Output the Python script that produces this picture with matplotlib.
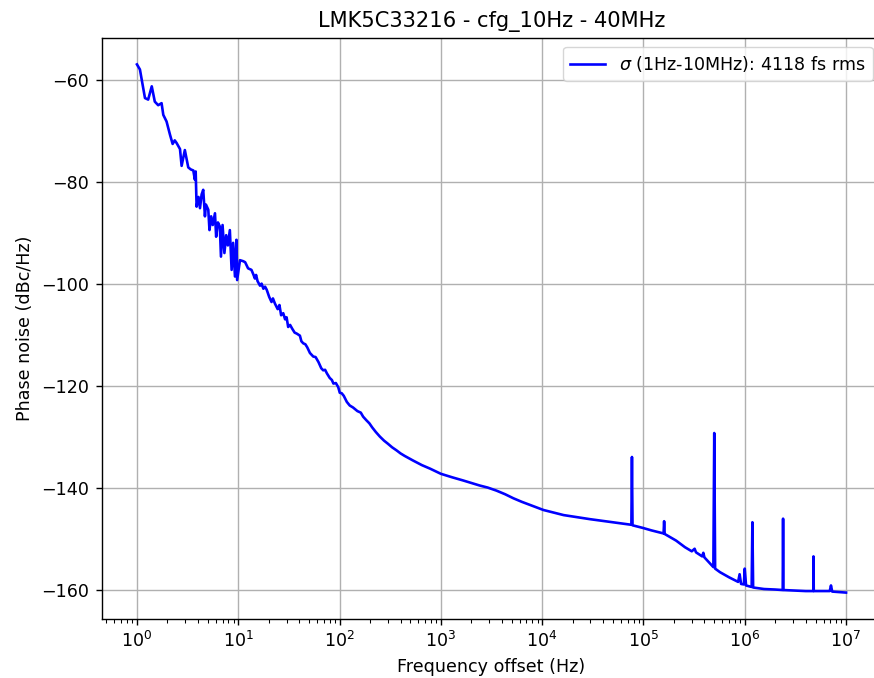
import matplotlib
matplotlib.use("Agg")
import matplotlib.pyplot as plt

# phase noise trace (offset in Hz, level in dBc/Hz)
freq = [1.0, 1.07, 1.2, 1.29, 1.40, 1.5, 1.62, 1.75, 1.82, 1.96,
        2.12, 2.25, 2.36, 2.46, 2.66, 2.76, 2.97, 3.21, 3.4, 3.6,
        3.73, 3.8, 3.88, 4.05, 4.19, 4.35, 4.51, 4.69, 4.8, 5.06,
        5.2, 5.4, 5.6, 5.89, 6.05, 6.3, 6.58, 6.75, 7.0, 7.3,
        7.6, 7.9, 8.26, 8.6, 8.9, 9.28, 9.6, 9.75, 10.4, 11.2,
        11.7, 12.5, 13.5, 14.1, 14.6, 15.0, 15.5, 16.4, 17.0, 17.7,
        18.4, 19.1, 20.2, 21.3, 22.0, 23.0, 24.5, 25.5, 26.5, 27.8,
        29.0, 30.0, 31.1, 32.5, 34.0, 36.0, 37.8, 40.6, 42.0, 43.8,
        46.0, 48.0, 51.0, 55.0, 58.0, 62.0, 66.0, 69.0, 72.0, 75.0,
        80.0, 84.0, 87.0, 92.0, 97.0, 100.5, 105.0, 110.0, 118.0, 126.0,
        136.0, 150.0, 162.0, 171.0, 184.0, 197.0, 210.0, 228.0, 250.0, 275.0,
        300.0, 330.0, 365.0, 400.0,
        440.0, 532.0, 650.0, 785.0, 1000.0, 1300.0, 1655.0, 2000.0, 2420.0, 2900.0,
        3540.0, 4300.0, 5200.0, 6300.0, 7580.0, 10300.0, 16300.0, 29700.0, 50000.0, 76000.0,
        77000.0, 78000.0, 98000.0, 1.2e5, 1.58e5, 1.6e5, 1.62e5, 2.1e5, 2.57e5, 3.0e5,
        3.2e5, 3.3e5, 3.8e5, 3.9e5, 4.0e5, 4.9e5, 5.0e5, 5.1e5, 5.7e5, 7.0e5,
        8.6e5, 8.9e5, 9.2e5, 9.8e5, 1.0e6, 1.03e6, 1.17e6, 1.19e6, 1.21e6, 1.55e6,
        2.0e6, 2.37e6, 2.39e6, 2.41e6, 3.1e6, 4.0e6, 4.75e6, 4.77e6, 4.8e6, 6.9e6,
        7.1e6, 7.3e6, 1.0e7]

pnoise = [-57.0, -58.0, -63.6, -63.9, -61.3, -64.3, -65.0, -64.6, -66.9, -68.2,
          -70.8, -72.6, -71.9, -72.4, -73.6, -76.9, -73.8, -77.2, -77.6, -77.8,
          -79.6, -78.0, -84.9, -83.0, -85.2, -82.5, -81.6, -86.8, -84.5, -85.5,
          -89.5, -86.8, -88.5, -86.2, -90.8, -88.0, -88.8, -94.7, -88.5, -94.0,
          -90.5, -92.5, -89.5, -97.3, -92.0, -98.6, -91.4, -99.3, -95.4, -95.6,
          -95.8, -97.0, -97.3, -98.2, -99.0, -98.3, -99.5, -100.4, -100.0, -101.0,
          -100.6, -101.2, -102.6, -103.6, -102.9, -103.9, -105.0, -104.2, -106.2, -105.8,
          -107.0, -106.6, -108.5, -108.1, -108.8, -109.6, -109.8, -110.2, -111.3, -111.7,
          -111.9, -112.5, -113.6, -114.3, -114.4, -115.4, -116.6, -117.0, -116.9, -117.6,
          -118.5, -118.9, -119.6, -119.5, -120.3, -121.4, -121.5, -122.0, -123.2, -123.9,
          -124.3, -125.0, -125.3, -126.1, -126.8, -127.4, -128.2, -129.1, -130.0, -130.8,
          -131.4, -132.1, -132.7, -133.3,
          -133.8, -134.7, -135.6, -136.3, -137.3, -138.0, -138.6, -139.1, -139.6, -140.0,
          -140.6, -141.3, -142.1, -142.8, -143.4, -144.4, -145.4, -146.2, -146.8, -147.3,
          -134.0, -147.4, -147.9, -148.4, -149.0, -146.6, -149.1, -150.4, -151.7, -152.5,
          -152.0, -152.7, -153.5, -152.8, -153.7, -155.6, -129.3, -155.9, -156.6, -157.6,
          -158.5, -157.0, -158.9, -159.0, -155.9, -159.2, -159.5, -146.8, -159.6, -159.9,
          -160.0, -160.1, -146.1, -160.1, -160.2, -160.3, -160.3, -153.5, -160.3, -160.3,
          -159.2, -160.4, -160.6]

title = "LMK5C33216 - cfg_10Hz - 40MHz"
legend_label = r"$\sigma$ (1Hz-10MHz): 4118 fs rms"

# the reference was rendered larger and scaled down, so scale the defaults
s = 1.26
plt.rcParams.update({
    "font.size": 10 * s,
    "lines.linewidth": 1.5 * s,
    "axes.linewidth": 0.8 * s,
    "grid.linewidth": 0.8 * s,
    "xtick.major.size": 3.5 * s,
    "ytick.major.size": 3.5 * s,
    "xtick.minor.size": 2 * s,
    "ytick.minor.size": 2 * s,
    "xtick.major.width": 0.8 * s,
    "ytick.major.width": 0.8 * s,
    "xtick.minor.width": 0.6 * s,
    "ytick.minor.width": 0.6 * s,
    "xtick.major.pad": 3.5 * s,
    "ytick.major.pad": 3.5 * s,
    "axes.titlepad": 6 * s,
    "axes.labelpad": 4 * s,
})

fig = plt.figure(figsize=(8.74, 6.78), dpi=100)
ax = fig.add_axes([101.5/874, 59/678, 780/874, 581/678])

ax.semilogx(freq, pnoise, color="blue", label=legend_label)
ax.grid(True)
ax.set_title(title)
ax.set_xlabel("Frequency offset (Hz)")
ax.set_ylabel("Phase noise (dBc/Hz)")
ax.legend(loc="upper right")

fig.savefig("out.png", dpi=100)
